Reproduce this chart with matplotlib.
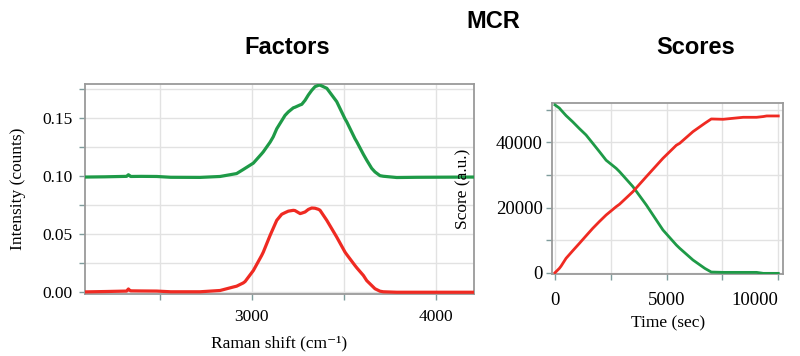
import matplotlib
matplotlib.use("Agg")
import matplotlib.pyplot as plt
from matplotlib.ticker import MultipleLocator

# Factors (Raman spectra)
raman_shift = [2094, 2200, 2320, 2330, 2336, 2342, 2400, 2484, 2560, 2719, 2828, 2900, 2918, 2954,
               2964, 3009, 3054, 3063, 3100, 3117, 3136, 3163, 3181, 3199, 3226, 3235, 3263, 3272,
               3290, 3308, 3326, 3344, 3362, 3371, 3408, 3462, 3507, 3516, 3561, 3571, 3607, 3625,
               3652, 3670, 3697, 3715, 3788, 3900, 4208]
factor_green = [0.0990, 0.0992, 0.0996, 0.1010, 0.1003, 0.0995, 0.0996, 0.0995, 0.0988, 0.0987,
                0.0995, 0.1015, 0.1020, 0.1055, 0.1065, 0.1110, 0.1190, 0.1207, 0.1290, 0.1336,
                0.1405, 0.1474, 0.1520, 0.1550, 0.1585, 0.1590, 0.1610, 0.1615, 0.1650, 0.1696,
                0.1735, 0.1767, 0.1778, 0.1780, 0.1753, 0.1638, 0.1490, 0.1466, 0.1320, 0.1293,
                0.1185, 0.1135, 0.1065, 0.1034, 0.1002, 0.0997, 0.0986, 0.0988, 0.0990]
factor_red = [0.0003, 0.0006, 0.0010, 0.0028, 0.0018, 0.0012, 0.0011, 0.0010, 0.0004, 0.0004,
              0.0015, 0.0045, 0.0052, 0.0080, 0.0092, 0.0187, 0.0316, 0.0345, 0.0489, 0.0550,
              0.0618, 0.0670, 0.0684, 0.0697, 0.0704, 0.0702, 0.0676, 0.0680, 0.0690, 0.0712,
              0.0724, 0.0722, 0.0713, 0.0705, 0.0618, 0.0474, 0.0345, 0.0325, 0.0230, 0.0210,
              0.0144, 0.0100, 0.0058, 0.0030, 0.0009, 0.0004, 0.0000, 0.0000, 0.0000]

# Scores
time_sec = [0, 195, 270, 494, 790, 1093, 1390, 1690, 1990, 2290, 2740, 2890, 3490, 4090, 4835,
            5435, 5584, 6180, 6710, 7000, 7530, 8430, 9030, 9330, 9480, 10000]
score_green = [51460, 50500, 49900, 48200, 46300, 44200, 42250, 39700, 37130, 34500, 32020, 31000,
               26400, 20770, 13100, 8490, 7500, 3890, 1330, 200, 100, 100, 100, -200, -200, -200]
score_red = [0, 1330, 2000, 4400, 6700, 9000, 11300, 13600, 15700, 17700, 20250, 21000, 24860,
             29460, 35090, 39100, 39690, 43270, 45830, 47160, 47060, 47670, 47670, 47900, 48080, 48080]

GREEN = "#1e9a47"
RED = "#ef2a22"
FRAME = "#9a9a9a"
TICKC = "#7f9c9c"
GRID = "#e2e2e2"

serif = ["Liberation Serif", "DejaVu Serif"]
sans = ["Liberation Sans", "DejaVu Sans"]

fig = plt.figure(figsize=(8.0, 3.56), dpi=100)
ax1 = fig.add_axes([0.10625, 0.1742, 0.48625, 0.5899])
ax2 = fig.add_axes([0.6904, 0.2317, 0.288, 0.4781])

def style(ax, size, xpad, ypad):
    for s in ax.spines.values():
        s.set_color(FRAME)
        s.set_linewidth(1.3)
    ax.grid(True, which="both", color=GRID, linewidth=1.0, zorder=0)
    ax.set_axisbelow(True)
    ax.tick_params(which="both", direction="out", color=TICKC, length=4, width=1,
                   labelsize=size)
    ax.tick_params(axis="x", which="both", pad=xpad)
    ax.tick_params(axis="y", which="both", pad=ypad)
    for lab in ax.get_xticklabels() + ax.get_yticklabels():
        lab.set_family(serif)

ax1.plot(raman_shift, factor_green, color=GREEN, lw=2.3, zorder=3, solid_joinstyle="round")
ax1.plot(raman_shift, factor_red, color=RED, lw=2.3, zorder=3, solid_joinstyle="round")
ax1.set_xlim(2094, 4208)
ax1.set_ylim(-0.0015, 0.179)
ax1.xaxis.set_major_locator(MultipleLocator(1000))
ax1.xaxis.set_minor_locator(MultipleLocator(500))
ax1.yaxis.set_minor_locator(MultipleLocator(0.025))
ax1.set_yticks([0, 0.05, 0.10, 0.15])
ax1.set_yticklabels(["0.00", "0.05", "0.10", "0.15"])
style(ax1, 12.5, 7, 5)
ax1.set_xlabel("Raman shift (cm⁻¹)", family=serif, fontsize=12.5)
ax1.xaxis.label.set_va("center")
ax1.xaxis.set_label_coords(0.5, -0.233)
ax1.set_ylabel("Intensity (counts)", family=serif, fontsize=12.5)
ax1.yaxis.label.set_va("center")
ax1.yaxis.set_label_coords(-0.172, 0.5)

ax2.plot(time_sec, score_green, color=GREEN, lw=2.0, zorder=3, solid_joinstyle="round")
ax2.plot(time_sec, score_red, color=RED, lw=2.0, zorder=3, solid_joinstyle="round")
ax2.set_xlim(-120, 10200)
ax2.set_ylim(-250, 51960)
ax2.xaxis.set_major_locator(MultipleLocator(5000))
ax2.xaxis.set_minor_locator(MultipleLocator(2500))
ax2.yaxis.set_major_locator(MultipleLocator(20000))
ax2.yaxis.set_minor_locator(MultipleLocator(10000))
style(ax2, 13.5, 9, 3)
fig.canvas.draw()
for lab in ax2.get_xticklabels():
    if lab.get_text() == "10000":
        lab.set_ha("right")
ax2.set_xlabel("Time (sec)", family=serif, fontsize=12.5)
ax2.xaxis.label.set_va("center")
ax2.xaxis.set_label_coords(0.502, -0.291)
ax2.set_ylabel("Score (a.u.)", family=serif, fontsize=12.5)
ax2.yaxis.label.set_va("center")
ax2.yaxis.set_label_coords(-0.388, 0.5)

fig.text(0.616, 0.941, "MCR", ha="center", va="center", family=sans, weight="bold", fontsize=17)
fig.text(0.359, 0.866, "Factors", ha="center", va="center", family=sans, weight="bold", fontsize=17)
fig.text(0.869, 0.866, "Scores", ha="center", va="center", family=sans, weight="bold", fontsize=17)

fig.savefig("out.png", dpi=100)
